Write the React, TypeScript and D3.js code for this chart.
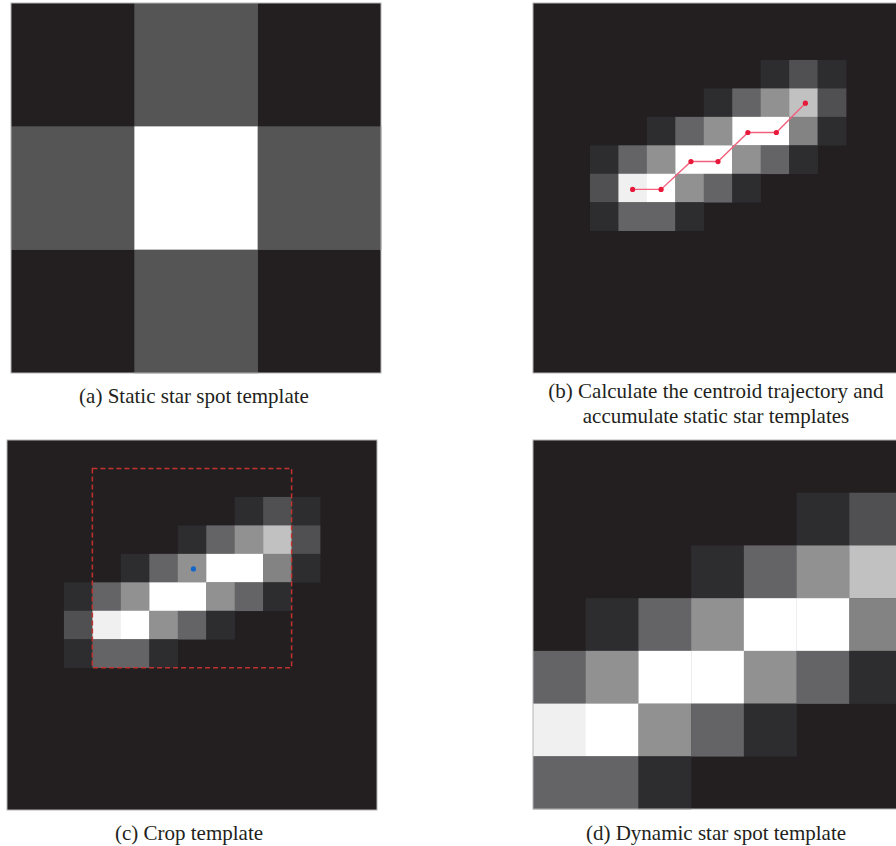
import React from "react";
import * as d3 from "d3";

// Grayscale levels (0 = background, 1 = saturated) of the static 3x3 star spot
const staticTemplate: number[][] = [
  [0, 0.23, 0],
  [0.23, 1, 0.23],
  [0, 0.23, 0],
];

// Accumulated 13x13 template along the centroid trajectory
const accumulatedTemplate: number[][] = [
  [0, 0, 0, 0, 0, 0, 0, 0, 0, 0, 0, 0, 0],
  [0, 0, 0, 0, 0, 0, 0, 0, 0, 0, 0, 0, 0],
  [0, 0, 0, 0, 0, 0, 0, 0, 0.05, 0.21, 0.05, 0, 0],
  [0, 0, 0, 0, 0, 0, 0.05, 0.3, 0.5, 0.72, 0.21, 0, 0],
  [0, 0, 0, 0, 0.05, 0.3, 0.5, 1, 1, 0.44, 0.05, 0, 0],
  [0, 0, 0.05, 0.3, 0.5, 1, 1, 0.5, 0.3, 0.05, 0, 0, 0],
  [0, 0, 0.21, 0.93, 1, 0.5, 0.3, 0.05, 0, 0, 0, 0, 0],
  [0, 0, 0.05, 0.3, 0.3, 0.05, 0, 0, 0, 0, 0, 0, 0],
  [0, 0, 0, 0, 0, 0, 0, 0, 0, 0, 0, 0, 0],
  [0, 0, 0, 0, 0, 0, 0, 0, 0, 0, 0, 0, 0],
  [0, 0, 0, 0, 0, 0, 0, 0, 0, 0, 0, 0, 0],
  [0, 0, 0, 0, 0, 0, 0, 0, 0, 0, 0, 0, 0],
  [0, 0, 0, 0, 0, 0, 0, 0, 0, 0, 0, 0, 0],
];

// Centroid trajectory in cell units (column, row)
const trajectoryCol = [3.5, 4.5, 5.55, 6.5, 7.55, 8.55, 9.57];
const trajectoryRow = [6.55, 6.55, 5.57, 5.57, 4.55, 4.55, 3.52];

// Crop window (cells) and its center
const cropCols = [3, 10];
const cropRows = [1, 8];
const cropCenter = [6.55, 4.53];

const captions = {
  a: ["(a) Static star spot template"],
  b: ["(b) Calculate the centroid trajectory and", "accumulate static star templates"],
  c: ["(c) Crop template"],
  d: ["(d) Dynamic star spot template"],
};

const BG = "#231f20";
const gray = d3.scaleLinear<string>().domain([0, 1]).range(["#222224", "#ffffff"]).interpolate(d3.interpolateRgb);

type Box = { x: number; y: number; size: number };

function Grid({ data, box, children }: { data: number[][]; box: Box; children?: (sx: d3.ScaleLinear<number, number>, sy: d3.ScaleLinear<number, number>) => React.ReactNode }) {
  const n = data.length;
  const m = data[0].length;
  const sx = d3.scaleLinear().domain([0, m]).range([box.x, box.x + box.size]);
  const sy = d3.scaleLinear().domain([0, n]).range([box.y, box.y + box.size]);
  return (
    <g>
      <rect x={box.x} y={box.y} width={box.size} height={box.size} fill={BG} />
      {data.map((row, r) =>
        row.map((v, c) =>
          v > 0 ? (
            <rect
              key={`${r}-${c}`}
              x={sx(c)}
              y={sy(r)}
              width={sx(c + 1) - sx(c) + 0.3}
              height={sy(r + 1) - sy(r) + 0.3}
              fill={gray(v)}
            />
          ) : null
        )
      )}
      {children ? children(sx, sy) : null}
      <rect x={box.x} y={box.y} width={box.size} height={box.size} fill="none" stroke="#b4b4b6" strokeWidth={1} />
    </g>
  );
}

function Caption({ lines, cx, y }: { lines: string[]; cx: number; y: number }) {
  return (
    <text x={cx} y={y} textAnchor="middle" style={{ fontFamily: "Liberation Serif, Times New Roman, DejaVu Serif, serif", fontSize: "21px" }} fill="#231f20">
      {lines.map((t, i) => (
        <tspan key={i} x={cx} dy={i === 0 ? 0 : 25}>
          {t}
        </tspan>
      ))}
    </text>
  );
}

export default function App() {
  const boxA: Box = { x: 11, y: 3, size: 370 };
  const boxB: Box = { x: 533, y: 3, size: 370 };
  const boxC: Box = { x: 7, y: 440, size: 370 };
  const boxD: Box = { x: 533, y: 440, size: 369 };

  const cropped = accumulatedTemplate
    .slice(cropRows[0], cropRows[1])
    .map((row) => row.slice(cropCols[0], cropCols[1]));

  const trajectory = trajectoryCol.map((c, i) => [c, trajectoryRow[i]] as [number, number]);

  return (
    <svg width={896} height={846} style={{ position: "absolute", left: 0, top: 0, background: "#ffffff" }}>
      <Grid data={staticTemplate} box={boxA} />

      <Grid data={accumulatedTemplate} box={boxB}>
        {(sx, sy) => {
          const line = d3
            .line<[number, number]>()
            .x((d) => sx(d[0]))
            .y((d) => sy(d[1]));
          return (
            <g>
              <path d={line(trajectory) || ""} fill="none" stroke="#f2607c" strokeWidth={1.4} />
              {trajectory.map((d, i) => (
                <circle key={i} cx={sx(d[0])} cy={sy(d[1])} r={2.6} fill="#e8183a" />
              ))}
            </g>
          );
        }}
      </Grid>

      <Grid data={accumulatedTemplate} box={boxC}>
        {(sx, sy) => (
          <g>
            <rect
              x={sx(cropCols[0])}
              y={sy(cropRows[0])}
              width={sx(cropCols[1]) - sx(cropCols[0])}
              height={sy(cropRows[1]) - sy(cropRows[0])}
              fill="none"
              stroke="#c0332e"
              strokeWidth={1.5}
              strokeDasharray="5,3"
            />
            <circle cx={sx(cropCenter[0])} cy={sy(cropCenter[1])} r={2.6} fill="#1266c8" />
          </g>
        )}
      </Grid>

      <Grid data={cropped} box={boxD} />

      <Caption lines={captions.a} cx={194} y={403} />
      <Caption lines={captions.b} cx={716} y={398} />
      <Caption lines={captions.c} cx={189} y={840} />
      <Caption lines={captions.d} cx={716} y={840} />
    </svg>
  );
}
